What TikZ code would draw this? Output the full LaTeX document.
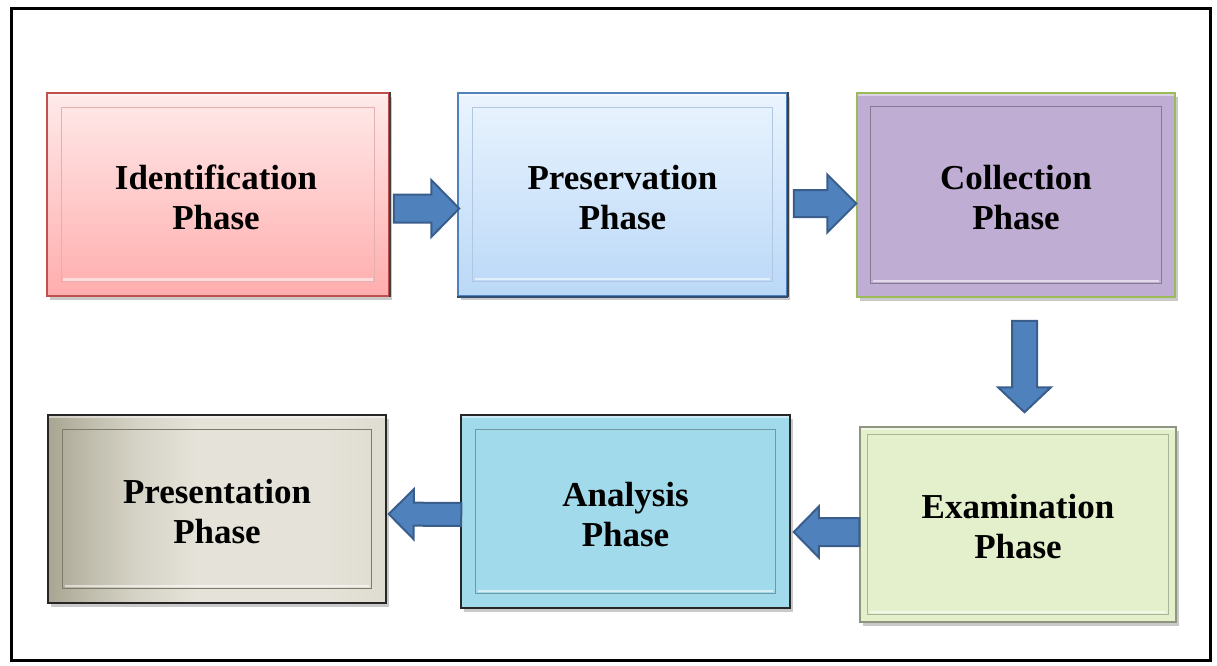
\documentclass[tikz,border=0pt]{standalone}
\usepackage{fontspec}
\setmainfont{Liberation Serif}
\usetikzlibrary{calc,shadows}
\definecolor{pinkTop}{HTML}{FFEAEA}
\definecolor{pinkBot}{HTML}{FFADAD}
\definecolor{pinkLine}{HTML}{C0504D}
\definecolor{blueTop}{HTML}{EAF4FE}
\definecolor{blueBot}{HTML}{BAD8F7}
\definecolor{blueLine}{HTML}{4F81BD}
\definecolor{purpFill}{HTML}{BFADD3}
\definecolor{purpLine}{HTML}{9BBB59}
\definecolor{grnFill}{HTML}{E3F0CB}
\definecolor{grnLine}{HTML}{8E9680}
\definecolor{cyanFill}{HTML}{A1DAEA}
\definecolor{grayL}{HTML}{A9A593}
\definecolor{grayB}{HTML}{BFBCAB}
\definecolor{grayA}{HTML}{D5D3C6}
\definecolor{grayM}{HTML}{E5E3D9}
\definecolor{grayR}{HTML}{DEDCD0}
\definecolor{grayOut}{HTML}{9E9A86}
\definecolor{arrowFill}{HTML}{4F81BD}
\definecolor{arrowLine}{HTML}{3A5E8C}
\pgfdeclarehorizontalshading{prsnshade}{100bp}{color(0bp)=(grayL); color(25bp)=(grayL); color(31bp)=(grayB); color(38bp)=(grayA); color(47bp)=(grayM); color(66bp)=(grayM); color(75bp)=(grayR); color(100bp)=(grayR)}
\tikzset{
  phasebox/.style={rectangle, inner sep=0pt, line width=1.5pt,
    drop shadow={shadow xshift=2.5pt, shadow yshift=-3.5pt, opacity=0.35, fill=black!60}},
  phasetext/.style={inner sep=0pt, align=center, font=\fontsize{35}{40}\selectfont\bfseries},
  barrow/.style={fill=arrowFill, draw=arrowLine, line width=2pt, line join=miter},
}
\newcommand\bevel[3]{%
  \draw[line width=1.2pt, draw=#3] ($(#1.north west)+(#2,#2)$) rectangle ($(#1.south east)+(-#2,-#2)$);
  \draw[line width=2.5pt, white, opacity=0.55] ($(#1.south west)+(#2+2,-#2-2.5)$) -- ($(#1.south east)+(-#2-2,-#2-2.5)$);
  \draw[line width=2pt, white, opacity=0.45] ($(#1.north west)+(2,2.5)$) -- ($(#1.north east)+(-2,2.5)$);
}
\newcommand\blockarrow[5]{%
  \path ($(#2)!#5!(#1)$) coordinate (#1-#2-h);
  \draw[barrow] ($(#1)!#3!90:(#2)$) -- ($(#1-#2-h)!#3!90:(#2)$) -- ($(#1-#2-h)!#4!90:(#2)$)
    -- (#2) -- ($(#1-#2-h)!#4!-90:(#2)$) -- ($(#1-#2-h)!#3!-90:(#2)$) -- ($(#1)!#3!-90:(#2)$) -- cycle;
}
\begin{document}
\begin{tikzpicture}[x=1pt,y=-1pt]
\useasboundingbox[fill=white] (0,0) rectangle (1217,665);
\draw[line width=3pt] (11.5,8.5) rectangle (1210,660.5);

% boxes
\node[phasebox, minimum width=342pt, minimum height=203pt, draw=pinkLine,
  top color=pinkTop, bottom color=pinkBot] (ident) at (218,194.5) {};
\node[phasebox, minimum width=329pt, minimum height=203pt, draw=blueLine,
  top color=blueTop, bottom color=blueBot] (pres) at (622.5,194.5) {};
\node[phasebox, minimum width=318pt, minimum height=204pt, draw=purpLine,
  fill=purpFill] (coll) at (1016,195) {};
\node[phasebox, minimum width=316pt, minimum height=195pt, draw=grnLine,
  fill=grnFill] (exam) at (1018,524.5) {};
\node[phasebox, minimum width=329pt, minimum height=193pt, draw=black!85,
  fill=cyanFill] (anal) at (625.5,511.5) {};
\node[phasebox, minimum width=338pt, minimum height=188pt, draw=black!85,
  shading=prsnshade] (prsn) at (217,509) {};

% dark right edges
\draw[line width=2.5pt, black!75] (ident.north east) -- (ident.south east);
\draw[line width=2.5pt, black!75] (pres.north east) -- (pres.south east);
\draw[line width=1.5pt, blueLine!60!black] (pres.south west) -- (pres.south east);

% bevels
\bevel{ident}{15}{pinkLine!45}
\bevel{pres}{15.5}{blueLine!45}
\bevel{coll}{14.5}{purpFill!70!black}
\bevel{exam}{8.5}{grnFill!75!black}
\bevel{anal}{15.5}{cyanFill!70!black}
\bevel{prsn}{15.5}{grayOut!80!black}

% labels
\node[phasetext] (identT) at ($(ident.center)+(-2,3)$) {Identification\\Phase};
\node[phasetext] (presT) at ($(pres.center)+(0,3)$) {Preservation\\Phase};
\node[phasetext] (collT) at ($(coll.center)+(0,2.5)$) {Collection\\Phase};
\node[phasetext] (examT) at ($(exam.center)+(0,2)$) {Examination\\Phase};
\node[phasetext] (analT) at ($(anal.center)+(0,3)$) {Analysis\\Phase};
\node[phasetext] (prsnT) at ($(prsn.center)+(0,3)$) {Presentation\\Phase};

% connector endpoints
\coordinate (a1s) at ($(ident.east)+(4,14)$);
\coordinate (a1t) at ($(pres.west)+(2,14)$);
\coordinate (a2s) at ($(pres.east)+(6,9)$);
\coordinate (a2t) at ($(coll.west)+(0,8.5)$);
\coordinate (a3s) at ($(coll.south)+(8.5,23)$);
\coordinate (a3t) at ($(exam.north)+(6.5,-14)$);
\coordinate (a4s) at ($(exam.west)+(0,7.5)$);
\coordinate (a4t) at ($(anal.east)+(3,20.5)$);
\coordinate (a5s) at ($(anal.west)+(1,3)$);
\coordinate (a5t) at ($(prsn.east)+(2,5)$);

\blockarrow{a1s}{a1t}{14pt}{28.5pt}{28pt}
\blockarrow{a2s}{a2t}{13.5pt}{29pt}{29pt}
\blockarrow{a3s}{a3t}{12.5pt}{26.5pt}{25pt}
\blockarrow{a4s}{a4t}{14pt}{25.5pt}{25pt}
\blockarrow{a5s}{a5t}{11.5pt}{25pt}{25pt}
\end{tikzpicture}
\end{document}
